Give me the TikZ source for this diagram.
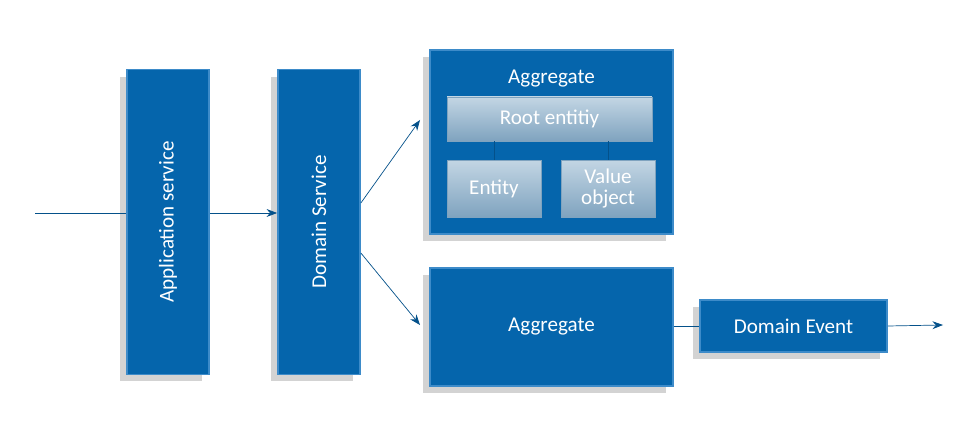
\documentclass[tikz,border=0pt]{standalone}
\usepackage{fontspec}
\setmainfont{Carlito}
\usetikzlibrary{positioning,shadows,arrows.meta}
\definecolor{svcblue}{HTML}{0565AC}
\definecolor{svcedge}{HTML}{3D8BC9}
\definecolor{steel}{HTML}{A9C4D8}
\definecolor{steeldark}{HTML}{7FA3BF}
\begin{document}
\begin{tikzpicture}[
    x=0.02cm, y=-0.02cm,
    block/.style={rectangle, draw=svcedge, line width=1pt, fill=svcblue, text=white, font=\fontsize{12}{14}\selectfont, align=center, drop shadow={shadow xshift=-4pt, shadow yshift=-4pt, opacity=0.35}},
    part/.style={rectangle, draw=steeldark, top color=steel!70!white, bottom color=steeldark, text=white, font=\fontsize{12}{14}\selectfont, align=center},
    arrow/.style={-{Stealth[length=6pt]}, draw=svcblue!80!black},
    link/.style={draw=svcblue!80!black}
]
\useasboundingbox (0,0) rectangle (977,445);

\node[block, minimum width=1.64cm, minimum height=6.1cm] (app) at (168,222) {};
\node[rotate=90, text=white, font=\fontsize{12}{14}\selectfont] at (app.center) {Application service};
\node[block, minimum width=1.64cm, minimum height=6.1cm] (dom) at (319,222) {};
\node[rotate=90, text=white, font=\fontsize{12}{14}\selectfont] at (dom.center) {Domain Service};

\node[block, minimum width=4.86cm, minimum height=3.68cm] (agg1) at (551.5,142) {};
\node[text=white, font=\fontsize{12}{14}\selectfont] (agg1-title) at (551.5,79) {Aggregate};
\node[part, minimum width=4.1cm, minimum height=0.88cm] (root) at (549.5,119) {Root entitiy};
\node[part, minimum width=1.88cm, minimum height=1.14cm] (entity) at (494,188.5) {Entity};
\node[part, minimum width=1.88cm, minimum height=1.14cm] (value) at (608,188.5) {Value\\[-2pt]object};

\node[block, minimum width=4.86cm, minimum height=2.36cm] (agg2) at (551.5,327) {Aggregate};
\node[block, minimum width=3.74cm, minimum height=1.04cm] (event) at (793.5,326) {Domain Event};

\coordinate (in) at (35,213);
\coordinate (out) at (943,325);
\coordinate (top-end) at (420,120);
\coordinate (bot-end) at (420,325);

\draw[link] (in) -- (app.west |- in);
\draw[arrow] (app.east |- in) -- (dom.west |- in);
\draw[arrow] (dom.east |- 0,203) -- (top-end);
\draw[arrow] (dom.east |- 0,253) -- (bot-end);
\draw[link] (root.south -| entity) -- (entity.north);
\draw[link] (root.south -| value) -- (value.north);
\draw[link] (agg2.east |- event) -- (event.west);
\draw[arrow] (event.east) -- (out);
\end{tikzpicture}
\end{document}
